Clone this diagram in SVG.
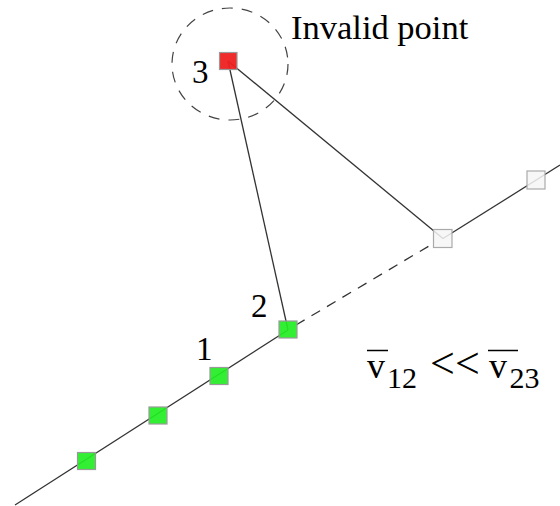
<svg xmlns="http://www.w3.org/2000/svg" width="560" height="506" viewBox="0 0 560 506">
<style>
.ln{stroke:#333;stroke-width:1.3;fill:none}
.dash{stroke:#333;stroke-width:1.3;fill:none;stroke-dasharray:10 8}
.pt{stroke:#999;stroke-width:1.2}
.g{fill:#22ee22;fill-opacity:0.92}
.r{fill:#ee2020;fill-opacity:0.95}
.w{fill:#f6f6f6;fill-opacity:0.85;stroke:#aaa}
text{font-family:"Liberation Serif","Times New Roman",serif;fill:#000}
</style>
<rect width="560" height="506" fill="#fff"/>
<g id="connectors">
<line class="ln" x1="15" y1="505" x2="288" y2="330"/>
<line class="dash" x1="296" y1="325" x2="434" y2="243"/>
<line class="ln" x1="443" y1="238.5" x2="560" y2="165"/>
<line class="ln" x1="228" y1="61" x2="443" y2="238.5"/>
<line class="ln" x1="228" y1="61" x2="288" y2="330"/>
<ellipse cx="230" cy="64" rx="58" ry="56" fill="none" stroke="#444" stroke-width="1.2" stroke-dasharray="11 9"/>
</g>
<g id="p0"><rect class="pt g" x="77.5" y="452.5" width="18" height="17"/></g>
<g id="pa"><rect class="pt g" x="149" y="407" width="18" height="17"/></g>
<g id="p1"><rect class="pt g" x="210" y="367.5" width="18" height="17"/><text x="196" y="360" font-size="33">1</text></g>
<g id="p2"><rect class="pt g" x="279" y="321" width="18" height="17"/><text x="251" y="317" font-size="33">2</text></g>
<g id="p3"><rect class="pt r" x="219.5" y="52.5" width="17.5" height="17"/><text x="192" y="82.5" font-size="33">3</text></g>
<g id="pw1"><rect class="pt w" x="433.5" y="229.5" width="18.5" height="18"/></g>
<g id="pw2"><rect class="pt w" x="527" y="171" width="18" height="18"/></g>
<g id="label-invalid"><text x="291" y="39" font-size="34.5">Invalid point</text></g>
<g id="formula">
<text x="367" y="377.5" font-size="36">v</text>
<text x="387" y="387.5" font-size="30">12</text>
<text x="430" y="378" font-size="44">&lt;</text>
<text x="455" y="378" font-size="44">&lt;</text>
<text x="489" y="377.5" font-size="36">v</text>
<text x="509.5" y="387.5" font-size="30">23</text>
<line x1="367" y1="350.5" x2="388" y2="350.5" stroke="#000" stroke-width="1.5"/>
<line x1="488" y1="350.5" x2="518" y2="350.5" stroke="#000" stroke-width="1.5"/>
</g>
</svg>
